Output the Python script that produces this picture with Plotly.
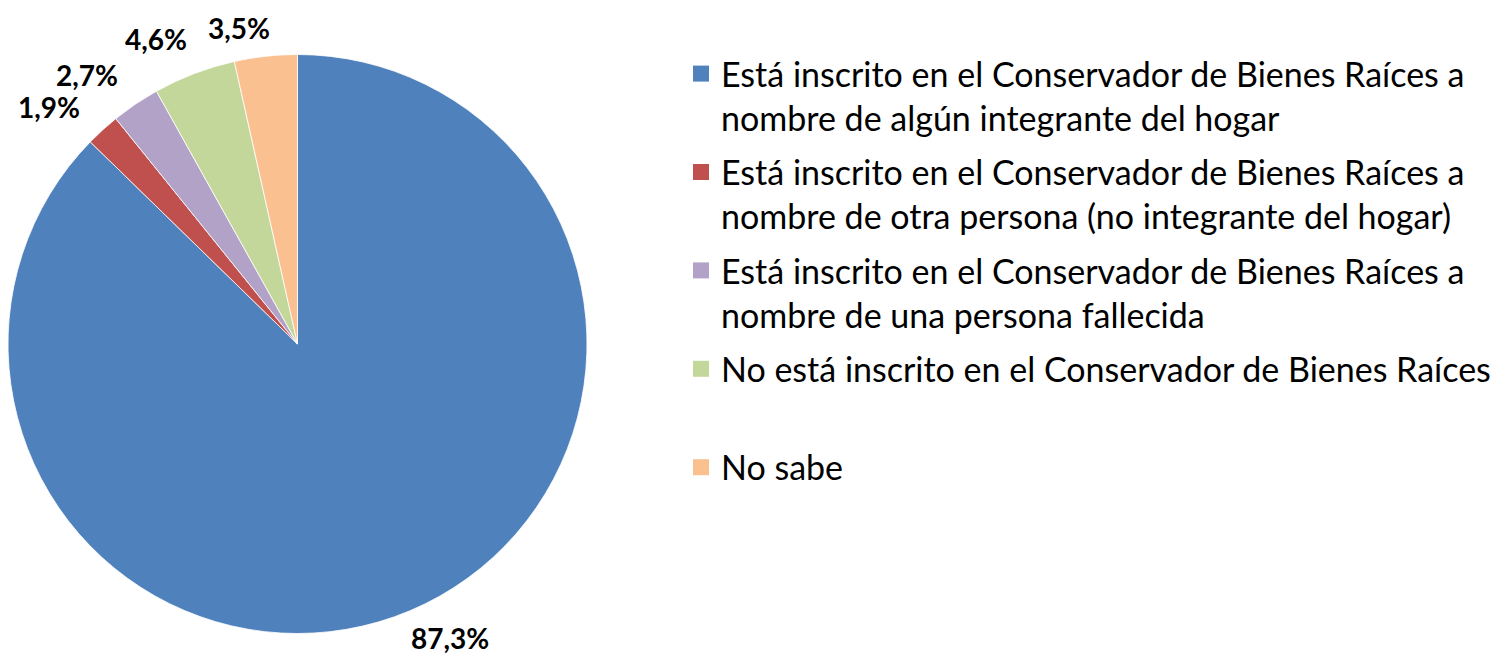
import math
import plotly.graph_objects as go

categories = [
    "Está inscrito en el Conservador de Bienes Raíces a<br>nombre de algún integrante del hogar",
    "Está inscrito en el Conservador de Bienes Raíces a<br>nombre de otra persona (no integrante del hogar)",
    "Está inscrito en el Conservador de Bienes Raíces a<br>nombre de una persona fallecida",
    "No está inscrito en el Conservador de Bienes Raíces<br> ",
    "No sabe",
]
values = [87.3, 1.9, 2.7, 4.6, 3.5]
colors = ["#4F81BD", "#C0504D", "#B2A2C7", "#C4D79B", "#FAC090"]

# the page body adds an 8px margin around the figure
OFF = 8
W, H = 1505 - OFF, 658 - OFF
cx, cy, r = 297.5 - OFF, 344 - OFF, 289.5

fig = go.Figure()
fig.add_trace(go.Pie(
    labels=categories,
    values=values,
    sort=False,
    direction="clockwise",
    rotation=0,
    marker=dict(colors=colors, line=dict(color="white", width=0.8)),
    textinfo="none",
    hoverinfo="label+percent",
    showlegend=False,
    domain=dict(x=[(cx - r) / W, (cx + r) / W], y=[1 - (cy + r) / H, 1 - (cy - r) / H]),
))

# legend entries
for i, (cat, col) in enumerate(zip(categories, colors)):
    fig.add_trace(go.Scatter(
        x=[None], y=[None], mode="markers", name=cat,
        marker=dict(symbol="square", size=20, color=col),
        legendgroup=str(i), showlegend=True, hoverinfo="skip",
    ))

# data labels placed outside each slice (angle from cumulative share)
total = sum(values)
lab_size = 28
gap, hw, hh = 20, 34, 14
half_box = lab_size * 1.3 / 2 + 2
angle_shift = -4.0
cum = 0.0
for v in values:
    mid = (cum + v / 2) / total * 360.0 + angle_shift
    cum += v
    t = math.radians(mid)
    ux, uy = math.sin(t), -math.cos(t)  # screen coords (y down)
    ext = abs(ux) * hw + abs(uy) * hh
    px = cx + (r + gap + ext) * ux
    py = cy + (r + gap + ext) * uy
    py = min(max(py, half_box), H - half_box)  # keep label inside the canvas
    fig.add_annotation(
        x=px / W, y=1 - py / H, xref="paper", yref="paper",
        text=f"{v:.1f}%".replace(".", ","), showarrow=False,
        xanchor="center", yanchor="middle",
        font=dict(family="Lato", size=lab_size, color="black", weight="bold"),
    )

fig.update_layout(
    width=W, height=H,
    margin=dict(l=0, r=0, t=0, b=0),
    paper_bgcolor="white",
    plot_bgcolor="white",
    xaxis=dict(visible=False),
    yaxis=dict(visible=False),
    showlegend=True,
    legend=dict(
        x=(681 - OFF) / W, y=1 - (45 - OFF) / H, xanchor="left", yanchor="top",
        valign="top",
        tracegroupgap=7,
        font=dict(family="Lato", size=34, color="black"),
        itemclick=False, itemdoubleclick=False,
    ),
)

fig.write_html("out.html")
